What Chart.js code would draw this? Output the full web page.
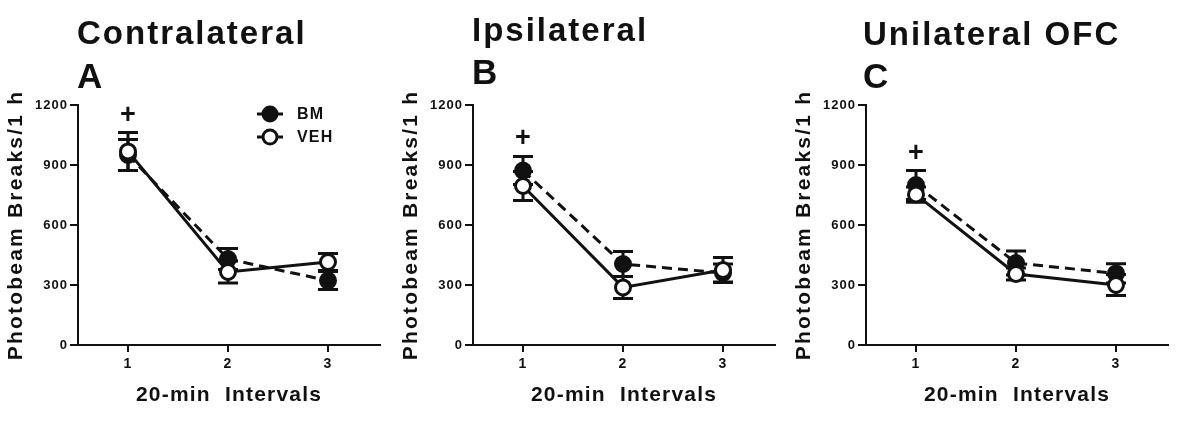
<!DOCTYPE html>
<html>
<head>
<meta charset="utf-8">
<script src="https://cdn.jsdelivr.net/npm/chart.js@4/dist/chart.umd.min.js"></script>
<style>
  body { margin: 0; background: #fff; }
  #wrap { position: relative; width: 1185px; height: 425px; overflow: hidden; }
  #wrap canvas { position: absolute; top: 0; }
</style>
</head>
<body>
<div id="wrap">
  <canvas id="panelA" width="395" height="425" style="left:0px"></canvas>
  <canvas id="panelB" width="395" height="425" style="left:395px"></canvas>
  <canvas id="panelC" width="397" height="425" style="left:788px"></canvas>
</div>
<script>
// valores
const categories = [1, 2, 3];
const yTicks = [0, 300, 600, 900, 1200];
const seriesNames = ['BM', 'VEH'];
const panelTitles = ['Contralateral', 'Ipsilateral', 'Unilateral OFC'];
const panelLetters = ['A', 'B', 'C'];

const bmA = [950, 430, 322];
const bmErrA = [78, 52, 45];
const vehA = [968, 365, 415];
const vehErrA = [95, 55, 42];

const bmB = [872, 405, 360];
const bmErrB = [70, 62, 45];
const vehB = [795, 288, 375];
const vehErrB = [72, 55, 62];

const bmC = [800, 410, 358];
const bmErrC = [72, 60, 48];
const vehC = [752, 355, 300];
const vehErrC = [38, 30, 52];

// altura del "+" en unidades del eje y
const plusMarks = [1145, 1033, 958];

const FONT = '"Liberation Sans", Arial, sans-serif';
const INK = '#111';

const errorBars = {
    id: 'errorBars',
    beforeDatasetsDraw(chart) {
        const { ctx, scales: { x, y } } = chart;
        ctx.save();
        ctx.strokeStyle = INK;
        ctx.lineWidth = 3;
        chart.data.datasets.forEach(ds => {
            ds.data.forEach((p, i) => {
                const e = ds.errors[i];
                const px = x.getPixelForValue(p.x);
                const top = y.getPixelForValue(p.y + e);
                const bot = y.getPixelForValue(p.y - e);
                ctx.beginPath();
                ctx.moveTo(px, top); ctx.lineTo(px, bot);
                ctx.moveTo(px - 10, top); ctx.lineTo(px + 10, top);
                ctx.moveTo(px - 10, bot); ctx.lineTo(px + 10, bot);
                ctx.stroke();
            });
        });
        ctx.restore();
    }
};

const textLayer = {
    id: 'textLayer',
    beforeDraw(chart) {
        chart.ctx.letterSpacing = '1px';
    },
    afterDraw(chart, args, opts) {
        const { ctx, chartArea: a, scales: { x, y } } = chart;
        ctx.save();
        ctx.fillStyle = INK;

        // titulo y letra del panel
        ctx.textAlign = 'left';
        ctx.textBaseline = 'alphabetic';
        ctx.letterSpacing = '2px';
        ctx.font = 'bold 33px ' + FONT;
        ctx.fillText(opts.title, opts.titleX, opts.titleY);
        ctx.font = 'bold 35px ' + FONT;
        ctx.fillText(opts.letter, opts.titleX, opts.letterY);

        // signo +
        ctx.letterSpacing = '0px';
        ctx.textAlign = 'center';
        ctx.textBaseline = 'middle';
        ctx.font = 'bold 27px ' + FONT;
        ctx.fillText('+', x.getPixelForValue(categories[0]), y.getPixelForValue(opts.plus));

        // titulo eje x
        ctx.letterSpacing = '1.2px';
        ctx.font = 'bold 21px ' + FONT;
        ctx.fillText('20-min  Intervals', (a.left + a.right) / 2, 395);

        // titulo eje y
        ctx.save();
        ctx.translate(16, (a.top + a.bottom) / 2);
        ctx.rotate(-Math.PI / 2);
        ctx.letterSpacing = '2.2px';
        ctx.fillText('Photobeam Breaks/1 h', 0, 0);
        ctx.restore();

        // leyenda (solo panel A)
        if (opts.legend) {
            const rows = [114, 137];
            seriesNames.forEach((name, k) => {
                const ds = chart.data.datasets.find(d => d.label === name);
                const ly = rows[k];
                ctx.strokeStyle = INK;
                ctx.lineWidth = 3;
                ctx.beginPath();
                ctx.moveTo(257, ly); ctx.lineTo(283, ly);
                ctx.stroke();
                ctx.beginPath();
                ctx.arc(270, ly, 7, 0, Math.PI * 2);
                ctx.fillStyle = ds.pointBackgroundColor;
                ctx.fill();
                ctx.stroke();
                ctx.fillStyle = INK;
                ctx.textAlign = 'left';
                ctx.textBaseline = 'middle';
                ctx.letterSpacing = '1.2px';
                ctx.font = 'bold 16px ' + FONT;
                ctx.fillText(name, 297, ly + 1);
            });
        }
        ctx.restore();
    }
};

function makeDataset(label, values, errors, filled) {
    return {
        label: label,
        data: categories.map((c, i) => ({ x: c, y: values[i] })),
        errors: errors,
        borderColor: INK,
        borderWidth: 3,
        borderDash: filled ? [10, 6] : [],
        pointRadius: 7.5,
        pointBorderWidth: 3,
        pointBorderColor: INK,
        pointBackgroundColor: filled ? INK : '#fff',
        order: filled ? 1 : 0,
        tension: 0,
        fill: false
    };
}

function crearPanel(id, bm, bmErr, veh, vehErr, idx, extra) {
    const ctx = document.getElementById(id).getContext('2d');
    return new Chart(ctx, {
        type: 'line',
        data: {
            datasets: [
                makeDataset(seriesNames[0], bm, bmErr, true),
                makeDataset(seriesNames[1], veh, vehErr, false)
            ]
        },
        options: {
            responsive: false,
            animation: false,
            devicePixelRatio: 1,
            layout: { padding: { top: 105, right: extra.right, bottom: 0, left: 0 } },
            plugins: {
                legend: { display: false },
                tooltip: { enabled: false },
                textLayer: {
                    title: panelTitles[idx],
                    letter: panelLetters[idx],
                    titleX: extra.titleX,
                    titleY: extra.titleY,
                    letterY: extra.letterY,
                    plus: plusMarks[idx],
                    legend: idx === 0
                }
            },
            scales: {
                x: {
                    type: 'linear',
                    min: 0.5,
                    max: 3.52,
                    afterBuildTicks: s => { s.ticks = categories.map(v => ({ value: v })); },
                    afterFit: s => { s.height = 80; },
                    grid: { drawOnChartArea: false, color: INK, lineWidth: 2, tickLength: 7 },
                    border: { display: true, color: INK, width: 2 },
                    ticks: {
                        color: INK,
                        padding: 4,
                        callback: v => String(v),
                        font: { family: FONT, size: 14, weight: 'bold' }
                    }
                },
                y: {
                    min: 0,
                    max: 1200,
                    afterBuildTicks: s => { s.ticks = yTicks.map(v => ({ value: v })); },
                    afterFit: s => { s.width = 78; },
                    grid: { drawOnChartArea: false, color: INK, lineWidth: 2, tickLength: 8 },
                    border: { display: true, color: INK, width: 2 },
                    ticks: {
                        color: INK,
                        padding: 2,
                        callback: v => String(v),
                        font: { family: FONT, size: 13, weight: 'bold' }
                    }
                }
            }
        },
        plugins: [errorBars, textLayer]
    });
}

crearPanel('panelA', bmA, bmErrA, vehA, vehErrA, 0, { right: 15, titleX: 77, titleY: 44, letterY: 88 });
crearPanel('panelB', bmB, bmErrB, vehB, vehErrB, 1, { right: 15, titleX: 77, titleY: 41, letterY: 84 });
crearPanel('panelC', bmC, bmErrC, vehC, vehErrC, 2, { right: 17, titleX: 75, titleY: 45, letterY: 88 });
</script>
</body>
</html>
